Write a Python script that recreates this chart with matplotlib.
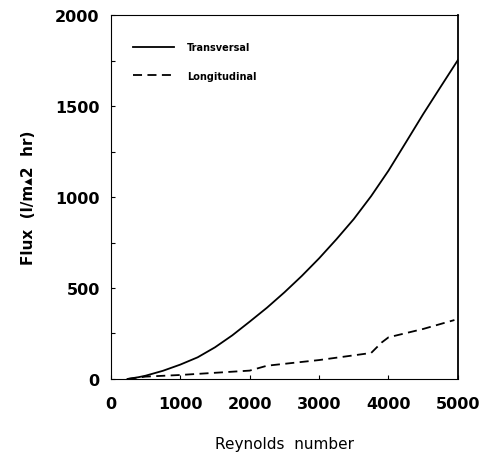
import matplotlib
matplotlib.use("Agg")
import matplotlib.pyplot as plt
from matplotlib.ticker import MultipleLocator

re_trans = [240, 400, 500, 750, 1000, 1250, 1500, 1750, 2000, 2250, 2500, 2750, 3000,
            3250, 3500, 3750, 4000, 4250, 4500, 4750, 5000]
flux_trans = [0, 10, 18, 45, 79, 119, 174, 240, 315, 392, 476, 566, 663,
              768, 879, 1005, 1145, 1300, 1456, 1605, 1753]

re_long = [240, 500, 1000, 2000, 2250, 3000, 3750, 3900, 4000, 4500, 4950]
flux_long = [0, 13, 22, 46, 73, 104, 143, 200, 229, 275, 324]

x_ticks = [0, 1000, 2000, 3000, 4000, 5000]
y_ticks = [0, 500, 1000, 1500, 2000]

fig = plt.figure(figsize=(4.82, 4.56), dpi=100)
ax = fig.add_axes([0.230, 0.1667, 0.720, 0.798])

ax.plot(re_trans, flux_trans, color="black", lw=1.3, label="Transversal")
ax.plot(re_long, flux_long, color="black", lw=1.3, ls=(0, (5, 3)), label="Longitudinal")

ax.set_xlim(0, 5000)
ax.set_ylim(0, 2000)
ax.set_xticks(x_ticks)
ax.set_yticks(y_ticks)
ax.yaxis.set_minor_locator(MultipleLocator(250))
ax.tick_params(axis="both", which="both", direction="in", length=3, width=0.8)
ax.tick_params(axis="x", pad=12)
ax.tick_params(axis="y", pad=8)
for lbl in ax.get_xticklabels() + ax.get_yticklabels():
    lbl.set_fontweight("bold")
    lbl.set_fontsize(11.5)
for s in ax.spines.values():
    s.set_linewidth(0.8)
ax.spines["right"].set_linewidth(1.3)

ax.set_xlabel("Reynolds  number", fontsize=11, labelpad=18)
ax.set_ylabel("Flux  (l/m\u25b42  hr)", fontsize=11, fontweight="bold", labelpad=14)

leg = ax.legend(loc="upper left", bbox_to_anchor=(0.04, 0.95), frameon=False,
                handlelength=4.2, labelspacing=1.9, handletextpad=1.3,
                prop={"size": 7, "weight": "bold"})

fig.savefig("out.png", dpi=100)
